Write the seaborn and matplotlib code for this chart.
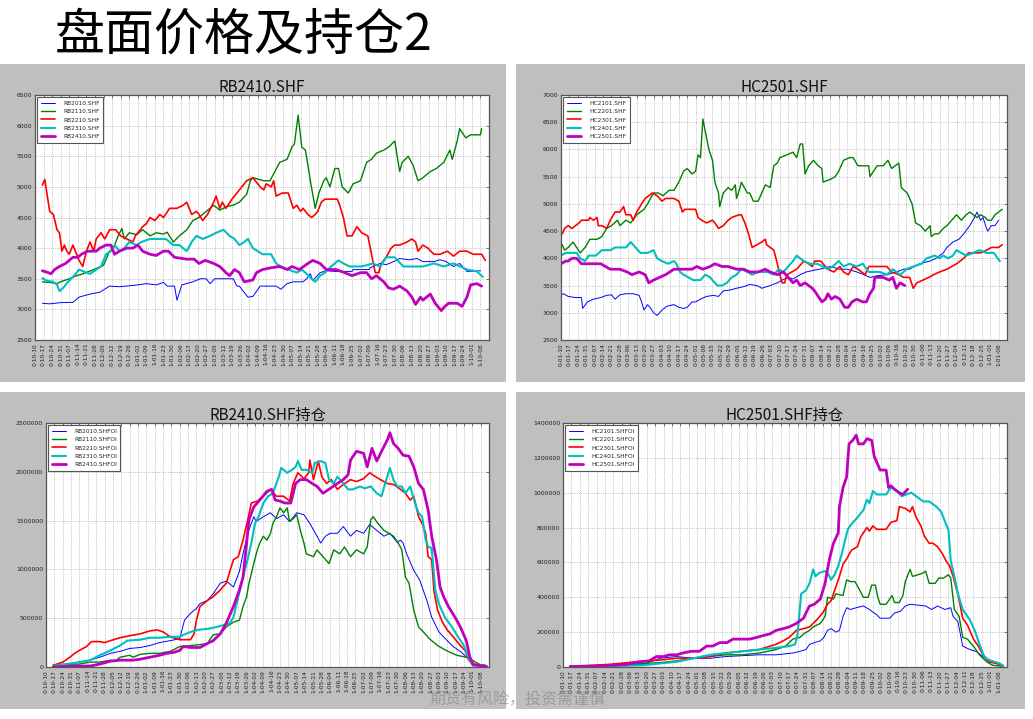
import matplotlib
matplotlib.use("Agg")
import matplotlib.pyplot as plt
from matplotlib.patches import Rectangle
import seaborn as sns
import pandas as pd

# ---------------- data ----------------
RB_TICK_LABELS = ["0-10-10", "0-10-17", "0-10-24", "0-10-31", "0-11-07", "0-11-14", "0-11-21", "0-11-28",
                  "0-12-05", "0-12-12", "0-12-19", "0-12-26", "1-01-02", "1-01-09", "1-01-16", "1-01-23",
                  "1-01-30", "1-02-06", "1-02-13", "1-02-20", "1-02-27", "1-03-05", "1-03-12", "1-03-19",
                  "1-03-26", "1-04-02", "1-04-09", "1-04-16", "1-04-23", "1-04-30", "1-05-07", "1-05-14",
                  "1-05-21", "1-05-28", "1-06-04", "1-06-11", "1-06-18", "1-06-25", "1-07-02", "1-07-09",
                  "1-07-16", "1-07-23", "1-07-30", "1-08-06", "1-08-13", "1-08-20", "1-08-27", "1-09-03",
                  "1-09-10", "1-09-17", "1-09-24", "1-10-01", "1-10-08"]
HC_TICK_LABELS = ["0-01-10", "0-01-17", "0-01-24", "0-01-31", "0-02-07", "0-02-14", "0-02-21", "0-02-28",
                  "0-03-06", "0-03-13", "0-03-20", "0-03-27", "0-04-03", "0-04-10", "0-04-17", "0-04-24",
                  "0-05-01", "0-05-08", "0-05-15", "0-05-22", "0-05-29", "0-06-05", "0-06-12", "0-06-19",
                  "0-06-26", "0-07-03", "0-07-10", "0-07-17", "0-07-24", "0-07-31", "0-08-07", "0-08-14",
                  "0-08-21", "0-08-28", "0-09-04", "0-09-11", "0-09-18", "0-09-25", "0-10-02", "0-10-09",
                  "0-10-16", "0-10-23", "0-10-30", "0-11-06", "0-11-13", "0-11-20", "0-11-27", "0-12-04",
                  "0-12-11", "0-12-18", "0-12-25", "1-01-01", "1-01-08"]

RB_PRICE_YTICKS = [2500, 3000, 3500, 4000, 4500, 5000, 5500, 6000, 6500]
HC_PRICE_YTICKS = [2500, 3000, 3500, 4000, 4500, 5000, 5500, 6000, 6500, 7000]
RB_OI_YTICKS = [0, 500000, 1000000, 1500000, 2000000, 2500000]
HC_OI_YTICKS = [0, 200000, 400000, 600000, 800000, 1000000, 1200000, 1400000]

TITLE = "盘面价格及持仓2"
WATERMARK = "期货有风险，投资需谨慎"
PANEL_TITLES = ["RB2410.SHF", "HC2501.SHF", "RB2410.SHF持仓", "HC2501.SHF持仓"]
RB_NAMES = ["RB2010.SHF", "RB2110.SHF", "RB2210.SHF", "RB2310.SHF", "RB2410.SHF"]
HC_NAMES = ["HC2101.SHF", "HC2201.SHF", "HC2301.SHF", "HC2401.SHF", "HC2501.SHF"]

# (day since first tick, price)
RB2010_PX = [(6,3100),(12,3090),(21,3110),(31,3115),(36,3200),(45,3250),(53,3280),(61,3380),(69,3370),(80,3390),
             (91,3420),(99,3400),(105,3440),(108,3380),(114,3380),(116,3150),(120,3400),(129,3450),(135,3500),
             (140,3500),(143,3420),(147,3500),(162,3500),(165,3380),(167,3380),(170,3300),(174,3200),(178,3210),
             (184,3380),(197,3380),(201,3330),(206,3420),(211,3450),(219,3450),(222,3500),(225,3580),(227,3470),
             (233,3600),(238,3630),(245,3620),(259,3620),(260,3650),(273,3650),(274,3680),(282,3750),(287,3730),
             (293,3780),(298,3830),(306,3810),(312,3830),(317,3780),(326,3780),(331,3810),(336,3780),(342,3700),
             (347,3750),(353,3620),(364,3630)]
RB2110_PX = [(6,3450),(12,3440),(18,3420),(21,3450),(28,3500),(34,3550),(39,3580),(48,3650),(56,3720),(61,3950),
             (64,4000),(68,4200),(71,4320),(73,4150),(77,4250),(83,4220),(88,4300),(94,4200),(99,4250),(105,4230),
             (108,4260),(113,4100),(118,4200),(124,4300),(129,4450),(134,4500),(140,4600),(146,4700),(151,4620),
             (157,4680),(162,4700),(167,4750),(173,4880),(176,5100),(178,5150),(187,5100),(192,5100),(196,5250),
             (200,5400),(206,5450),(210,5650),(212,5700),(215,6170),(218,5650),(221,5600),(225,5100),(229,4650),
             (232,4900),(236,5100),(238,5150),(241,5000),(245,5300),(248,5300),(251,5000),(256,4900),(260,5050),
             (266,5100),(271,5400),(275,5450),(279,5550),(285,5600),(289,5650),(294,5750),(298,5250),(300,5400),
             (305,5500),(309,5350),(313,5100),(317,5150),(323,5250),(328,5300),(334,5400),(339,5600),(341,5450),
             (345,5750),(347,5950),(352,5800),(356,5850),(364,5850),(365,5950)]
RB2210_PX = [(6,5030),(8,5120),(12,4600),(15,4550),(18,4300),(20,4250),(22,3950),(24,4050),(26,3950),(28,3900),
             (31,4050),(36,3800),(39,3700),(42,3950),(45,4100),(48,3950),(50,4150),(54,4250),(57,4150),(61,4300),
             (66,4300),(70,4200),(75,4150),(80,4100),(82,4200),(86,4300),(88,4350),(91,4400),(94,4500),(98,4450),
             (102,4550),(105,4500),(110,4650),(116,4650),(121,4700),(124,4750),(128,4550),(132,4600),(134,4550),
             (137,4450),(141,4550),(146,4750),(148,4850),(151,4650),(153,4750),(156,4650),(161,4800),(165,4900),
             (169,5000),(173,5100),(178,5150),(182,5050),(184,5000),(187,4950),(189,5050),(193,5000),(195,5100),
             (197,4850),(202,4900),(207,4900),(211,4650),(214,4700),(217,4600),(219,4650),(223,4550),(226,4500),
             (229,4550),(231,4600),(234,4750),(237,4800),(247,4800),(249,4700),(252,4500),(255,4200),(259,4200),
             (263,4350),(267,4250),(272,4200),(275,3900),(278,3600),(281,3600),(283,3750),(287,3850),(291,4000),
             (294,4050),(298,4050),(304,4100),(308,4150),(311,4100),(313,3950),(317,4050),(321,4000),(326,3900),
             (331,3900),(337,3950),(342,3870),(347,3950),(353,3950),(358,3900),(365,3900),(368,3800)]
RB2310_PX = [(6,3510),(9,3470),(15,3450),(18,3400),(20,3300),(23,3350),(27,3450),(32,3550),(36,3650),(42,3600),
             (45,3580),(50,3650),(54,3700),(58,3900),(62,3950),(65,4050),(69,3950),(73,4000),(77,4100),(83,4050),
             (87,4100),(94,4150),(107,4150),(113,4050),(118,4050),(124,3950),(128,4100),(132,4200),(137,4150),
             (143,4200),(148,4250),(154,4300),(159,4200),(163,4150),(167,4050),(171,4100),(174,4150),(178,4000),
             (182,3950),(186,3900),(193,3900),(197,3750),(201,3700),(207,3650),(214,3600),(218,3650),(222,3580),
             (226,3500),(229,3450),(233,3550),(237,3600),(242,3700),(248,3800),(252,3750),(257,3700),(266,3700),
             (271,3720),(276,3750),(282,3700),(287,3850),(294,3850),(301,3700),(309,3700),(317,3700),(326,3750),
             (334,3700),(342,3750),(353,3650),(361,3620),(366,3530)]
RB2410_PX = [(6,3630),(11,3600),(13,3580),(16,3650),(20,3700),(25,3750),(31,3850),(35,3850),(38,3900),(43,3950),
             (50,3950),(53,4000),(58,4050),(62,4050),(65,3900),(69,3950),(75,4000),(80,4000),(84,4050),(88,3950),
             (94,3900),(99,3880),(105,3950),(109,3950),(114,3850),(124,3820),(130,3820),(134,3750),(139,3800),
             (146,3750),(151,3700),(156,3600),(159,3550),(163,3650),(167,3600),(171,3450),(178,3480),(181,3600),
             (186,3650),(193,3680),(200,3700),(206,3650),(210,3700),(216,3650),(223,3750),(227,3800),(233,3750),
             (238,3650),(246,3650),(253,3600),(259,3550),(266,3600),(271,3600),(275,3500),(279,3550),(285,3450),
             (289,3350),(293,3330),(298,3380),(304,3300),(308,3200),(311,3080),(315,3200),(317,3150),(323,3250),
             (327,3100),(332,2980),(335,3050),(338,3100),(345,3100),(349,3050),(353,3200),(356,3400),(361,3420),
             (365,3380)]

HC2101_PX = [(0,3330),(2,3350),(6,3300),(12,3280),(17,3280),(18,3080),(22,3200),(27,3250),(33,3280),(38,3320),
             (42,3330),(45,3250),(49,3330),(54,3350),(60,3350),(65,3320),(67,3200),(69,3050),(72,3150),(74,3100),
             (77,3000),(80,2950),(84,3050),(88,3120),(94,3150),(98,3100),(102,3080),(105,3100),(109,3200),
             (112,3200),(116,3250),(121,3300),(127,3320),(131,3300),(135,3400),(141,3420),(146,3450),(152,3480),
             (157,3520),(163,3500),(167,3450),(174,3500),(180,3550),(184,3600),(189,3650),(193,3620),(199,3700),
             (204,3750),(210,3780),(215,3800),(224,3850),(232,3800),(238,3800),(246,3750),(252,3700),(257,3650),
             (263,3680),(271,3700),(279,3750),(285,3800),(290,3800),(298,3900),(307,3950),(312,4000),(318,4100),
             (321,4200),(326,4300),(331,4350),(335,4450),(340,4600),(344,4750),(346,4850),(349,4700),(351,4750),
             (354,4550),(355,4500),(358,4600),(361,4600),(364,4700)]
HC2201_PX = [(1,4250),(3,4150),(6,4200),(10,4300),(13,4200),(16,4100),(20,4200),(24,4350),(30,4350),(34,4400),
             (38,4550),(42,4600),(47,4700),(49,4600),(54,4700),(58,4650),(63,4800),(69,4900),(72,5000),(77,5200),
             (81,5200),(85,5150),(90,5250),(94,5250),(98,5400),(102,5600),(105,5650),(109,5550),(112,5600),
             (114,5900),(116,5850),(118,6560),(123,6000),(126,5800),(128,5400),(131,5200),(132,4950),(135,5200),
             (139,5300),(142,5250),(145,5350),(146,5100),(149,5300),(150,5400),(155,5200),(157,5200),(160,5050),
             (164,5050),(167,5200),(170,5350),(174,5300),(177,5700),(180,5750),(182,5850),(188,5900),(193,5950),
             (196,5850),(199,6100),(201,6100),(203,5550),(206,5700),(210,5800),(214,5700),(217,5650),(218,5400),
             (224,5450),(228,5500),(231,5600),(235,5800),(240,5850),(243,5850),(247,5700),(256,5700),(257,5500),
             (260,5600),(263,5700),(268,5700),(272,5800),(275,5650),(278,5700),(281,5750),(282,5550),(283,5300),
             (288,5200),(292,5000),(295,4650),(299,4600),(303,4500),(307,4600),(308,4400),(311,4450),(314,4450),
             (318,4550),(321,4600),(325,4700),(329,4800),(333,4700),(337,4800),(340,4850),(346,4750),(349,4800),
             (353,4750),(355,4700),(358,4700),(361,4800),(364,4850),(367,4900)]
HC2301_PX = [(1,4450),(3,4550),(6,4600),(9,4550),(12,4600),(15,4650),(17,4700),(23,4700),(24,4750),(27,4700),
             (30,4750),(31,4600),(34,4600),(38,4550),(41,4700),(45,4850),(49,4850),(52,4950),(54,4800),(58,4800),
             (60,4700),(63,4850),(67,5000),(70,5100),(76,5200),(80,5150),(84,5050),(87,5100),(94,5100),(98,5050),
             (101,4850),(103,4900),(112,4900),(114,4750),(117,4700),(121,4650),(126,4700),(128,4650),(131,4550),
             (135,4600),(139,4700),(142,4750),(148,4800),(150,4800),(153,4650),(156,4450),(159,4200),(163,4250),
             (167,4300),(170,4350),(171,4250),(174,4200),(177,4150),(180,3900),(182,3700),(184,3550),(186,3550),
             (188,3700),(192,3750),(196,3800),(200,3900),(202,3950),(206,3900),(209,3850),(211,3950),(216,3950),
             (220,3850),(222,3800),(227,3750),(232,3850),(235,3750),(239,3700),(243,3850),(247,3800),(250,3750),
             (253,3700),(256,3850),(263,3850),(271,3850),(275,3750),(281,3700),(285,3650),(290,3650),(293,3450),
             (296,3550),(301,3600),(306,3650),(310,3700),(315,3750),(321,3800),(325,3850),(329,3900),(332,3950),
             (335,4000),(339,4100),(343,4100),(349,4100),(354,4150),(358,4200),(364,4200),(367,4250)]
HC2401_PX = [(0,4050),(4,4100),(13,4100),(16,4000),(20,3950),(23,4050),(29,4050),(34,4150),(41,4150),(45,4200),
             (54,4200),(58,4300),(62,4200),(66,4100),(72,4100),(77,4150),(80,4000),(84,3950),(89,3900),(94,3950),
             (96,3900),(99,3750),(102,3700),(106,3650),(110,3600),(116,3600),(120,3700),(124,3650),(130,3500),
             (134,3500),(138,3550),(142,3650),(146,3700),(150,3800),(155,3750),(159,3700),(164,3750),(172,3750),
             (177,3700),(181,3800),(185,3750),(189,3850),(193,3950),(196,4050),(202,3950),(207,3900),(213,3900),
             (218,3850),(222,3800),(226,3850),(231,3950),(235,3850),(240,3900),(246,3850),(251,3900),(256,3750),
             (265,3750),(271,3700),(276,3800),(282,3700),(285,3750),(287,3800),(293,3850),(300,3900),(304,4000),
             (311,4050),(315,4000),(318,4050),(322,4000),(326,4050),(329,4150),(333,4100),(337,4050),(343,4100),
             (348,4150),(354,4100),(360,4100),(365,3950)]
HC2501_PX = [(0,3900),(4,3950),(6,3950),(9,4000),(13,4000),(17,3900),(33,3900),(37,3850),(41,3800),(49,3800),
             (55,3750),(59,3700),(65,3750),(70,3700),(73,3550),(77,3600),(82,3650),(87,3700),(94,3800),(102,3800),
             (109,3800),(113,3850),(118,3800),(124,3850),(128,3900),(134,3850),(139,3850),(146,3800),(152,3800),
             (157,3750),(164,3750),(170,3800),(174,3750),(180,3700),(185,3750),(189,3650),(193,3550),(196,3600),
             (199,3500),(203,3550),(209,3450),(211,3400),(214,3300),(217,3200),(220,3250),(222,3350),(225,3250),
             (228,3300),(232,3250),(236,3100),(239,3100),(242,3200),(246,3250),(251,3200),(254,3200),(257,3350),
             (260,3450),(261,3650),(268,3650),(273,3600),(276,3650),(279,3450),(282,3550),(286,3500)]

# open interest, in millions of lots: (day, OI)
RB2010_OI = [(6,0.017),(17,0.025),(28,0.05),(37,0.07),(45,0.10),(54,0.14),(62,0.16),(70,0.19),(79,0.20),(87,0.22),
             (95,0.25),(104,0.27),(112,0.29),(116,0.48),(121,0.55),(126,0.60),(129,0.65),(135,0.68),(140,0.75),
             (146,0.86),(151,0.88),(157,0.82),(162,0.98),(165,1.16),(169,1.37),(174,1.54),(176,1.49),(182,1.54),
             (188,1.58),(193,1.52),(199,1.56),(204,1.49),(210,1.58),(216,1.56),(221,1.47),(227,1.34),(230,1.27),
             (234,1.34),(238,1.37),(244,1.37),(249,1.44),(255,1.34),(260,1.40),(266,1.37),(271,1.46),(277,1.40),
             (283,1.34),(288,1.37),(294,1.28),(297,1.30),(299,1.27),(302,1.16),(308,0.99),(313,0.89),(319,0.68),
             (323,0.51),(329,0.36),(336,0.27),(341,0.21),(348,0.15),(353,0.09),(358,0.03),(364,0.02),(368,0.01)]
RB2110_OI = [(6,0.017),(17,0.03),(28,0.03),(37,0.05),(45,0.05),(54,0.07),(58,0.06),(62,0.10),(70,0.12),(73,0.10),
             (79,0.13),(87,0.14),(95,0.14),(104,0.16),(112,0.21),(121,0.22),(129,0.23),(135,0.24),(140,0.33),
             (146,0.34),(151,0.41),(157,0.46),(162,0.48),(165,0.62),(168,0.72),(170,0.86),(174,1.06),(177,1.20),
             (179,1.27),(182,1.34),(185,1.30),(188,1.37),(190,1.47),(193,1.54),(196,1.63),(199,1.58),(202,1.63),
             (204,1.49),(207,1.52),(210,1.56),(213,1.40),(216,1.27),(218,1.16),(224,1.13),(227,1.20),(232,1.13),
             (237,1.06),(241,1.20),(246,1.16),(250,1.23),(255,1.13),(260,1.20),(266,1.16),(269,1.23),(272,1.51),
             (274,1.54),(278,1.47),(283,1.40),(287,1.37),(291,1.34),(295,1.27),(298,1.20),(301,0.92),(304,0.86),
             (308,0.58),(312,0.41),(316,0.36),(321,0.29),(328,0.22),(335,0.17),(344,0.12),(352,0.10),(357,0.07),
             (364,0.02),(368,0.01)]
RB2210_OI = [(6,0.017),(14,0.05),(20,0.10),(24,0.14),(28,0.17),(34,0.21),(38,0.26),(45,0.26),(49,0.25),(54,0.27),
             (62,0.30),(70,0.32),(79,0.34),(87,0.37),(93,0.38),(98,0.36),(104,0.31),(112,0.28),(121,0.28),
             (124,0.34),(126,0.48),(129,0.62),(135,0.68),(140,0.72),(146,0.79),(151,0.86),(157,1.10),(161,1.13),
             (165,1.30),(169,1.51),(172,1.68),(177,1.70),(182,1.75),(188,1.82),(193,1.75),(199,1.75),(204,1.70),
             (207,1.88),(211,1.99),(216,1.93),(220,1.99),(221,2.12),(224,1.92),(228,2.11),(231,1.95),(235,1.88),
             (239,1.92),(244,1.82),(249,1.87),(255,1.92),(260,1.90),(266,1.93),(271,1.99),(276,1.95),(280,1.92),
             (286,1.88),(291,1.87),(297,1.82),(301,1.78),(305,1.71),(308,1.75),(312,1.54),(315,1.47),(318,1.37),
             (320,1.13),(323,1.10),(325,0.77),(328,0.58),(332,0.46),(336,0.38),(341,0.31),(347,0.22),(351,0.17),
             (354,0.07),(358,0.03),(366,0.02),(369,0.01)]
RB2310_OI = [(6,0.01),(17,0.03),(28,0.05),(37,0.07),(45,0.12),(54,0.17),(62,0.22),(68,0.27),(79,0.28),(87,0.30),
             (95,0.30),(104,0.31),(112,0.31),(117,0.34),(126,0.38),(135,0.39),(143,0.41),(149,0.43),(154,0.45),
             (157,0.51),(161,0.72),(165,0.92),(168,1.06),(172,1.27),(175,1.47),(178,1.54),(182,1.68),(186,1.75),
             (190,1.78),(195,1.95),(197,2.04),(202,1.99),(206,2.02),(209,2.05),(211,2.11),(214,2.02),(218,2.02),
             (223,1.99),(225,2.09),(230,2.11),(234,2.09),(237,1.92),(241,1.88),(244,1.95),(249,1.88),(253,1.82),
             (257,1.82),(263,1.85),(267,1.83),(272,1.85),(277,1.78),(281,1.75),(284,1.88),(288,2.04),(291,1.92),
             (294,1.85),(298,1.85),(301,1.78),(305,1.85),(309,1.68),(312,1.58),(315,1.54),(318,1.30),(320,1.23),
             (323,1.22),(326,0.79),(329,0.65),(334,0.51),(340,0.41),(345,0.31),(350,0.22),(354,0.09),(357,0.02),
             (364,0.02),(369,0.01)]
RB2410_OI = [(6,0.0),(23,0.01),(37,0.01),(45,0.03),(54,0.06),(62,0.07),(73,0.07),(79,0.08),(87,0.10),(95,0.12),
             (101,0.14),(107,0.15),(112,0.17),(115,0.21),(121,0.20),(129,0.20),(135,0.24),(140,0.27),(146,0.34),
             (151,0.45),(157,0.62),(162,0.79),(165,0.92),(168,1.27),(170,1.51),(174,1.64),(179,1.71),(185,1.80),
             (189,1.82),(192,1.71),(196,1.70),(200,1.68),(205,1.68),(209,1.88),(213,1.92),(218,1.92),(223,1.88),
             (227,1.85),(232,1.78),(238,1.83),(244,1.88),(249,1.92),(253,1.97),(255,2.12),(260,2.21),(266,2.19),
             (269,2.05),(273,2.24),(277,2.11),(281,2.21),(286,2.33),(288,2.40),(291,2.29),(295,2.24),(299,2.17),
             (304,2.16),(308,2.05),(312,1.88),(316,1.82),(320,1.61),(323,1.34),(327,1.10),(330,0.82),(333,0.72),
             (337,0.62),(343,0.50),(347,0.41),(352,0.27),(355,0.10),(358,0.02),(368,0.01),(369,0.0)]

HC2101_OI = [(6,0.005),(39,0.01),(67,0.015),(81,0.05),(95,0.06),(109,0.05),(123,0.05),(136,0.06),(150,0.065),
             (164,0.07),(178,0.07),(192,0.08),(198,0.09),(203,0.10),(206,0.13),(210,0.14),(215,0.15),(218,0.17),
             (221,0.21),(224,0.22),(228,0.20),(231,0.21),(234,0.29),(237,0.34),(240,0.33),(245,0.34),(251,0.35),
             (256,0.33),(262,0.30),(265,0.28),(273,0.28),(277,0.31),(282,0.32),(286,0.35),(290,0.36),(303,0.35),
             (308,0.33),(313,0.35),(319,0.33),(324,0.34),(326,0.29),(330,0.26),(334,0.12),(340,0.10),(345,0.09),
             (351,0.06),(356,0.03),(365,0.015),(368,0.01)]
HC2201_OI = [(6,0.003),(39,0.01),(67,0.02),(81,0.025),(95,0.035),(109,0.05),(123,0.06),(136,0.07),(150,0.07),
             (164,0.08),(178,0.10),(186,0.12),(192,0.16),(198,0.17),(201,0.19),(206,0.21),(209,0.23),(215,0.25),
             (219,0.29),(221,0.40),(226,0.39),(228,0.42),(234,0.41),(237,0.50),(240,0.49),(244,0.49),(248,0.44),
             (251,0.40),(255,0.40),(258,0.47),(261,0.47),(263,0.40),(265,0.36),(270,0.36),(273,0.39),(275,0.41),
             (277,0.37),(281,0.37),(284,0.41),(286,0.49),(290,0.56),(292,0.52),(297,0.53),(301,0.54),(303,0.55),
             (306,0.48),(311,0.48),(314,0.51),(318,0.51),(322,0.53),(324,0.51),(327,0.33),(331,0.29),(334,0.17),
             (338,0.16),(344,0.11),(348,0.07),(354,0.03),(359,0.01),(367,0.005)]
HC2301_OI = [(6,0.003),(39,0.015),(61,0.03),(72,0.035),(81,0.04),(95,0.05),(109,0.05),(123,0.06),(136,0.08),
             (150,0.09),(164,0.10),(173,0.12),(178,0.13),(184,0.15),(189,0.17),(195,0.21),(201,0.22),(206,0.23),
             (212,0.27),(217,0.31),(221,0.36),(224,0.38),(227,0.44),(231,0.52),(234,0.59),(237,0.62),(241,0.67),
             (246,0.69),(249,0.75),(254,0.80),(256,0.78),(259,0.81),(262,0.79),(270,0.79),(274,0.83),(279,0.84),
             (281,0.92),(286,0.91),(290,0.89),(292,0.92),(295,0.86),(299,0.81),(302,0.75),(306,0.71),(309,0.71),
             (313,0.69),(317,0.65),(320,0.61),(323,0.58),(326,0.52),(329,0.44),(330,0.42),(334,0.28),(338,0.24),
             (343,0.16),(347,0.12),(351,0.07),(356,0.03),(363,0.02),(367,0.005)]
HC2401_OI = [(6,0.003),(39,0.005),(67,0.01),(81,0.02),(95,0.03),(109,0.05),(123,0.07),(136,0.08),(150,0.09),
             (164,0.10),(178,0.11),(189,0.12),(194,0.13),(196,0.19),(199,0.42),(203,0.44),(206,0.48),(209,0.56),
             (211,0.52),(214,0.54),(219,0.55),(221,0.54),(224,0.50),(227,0.53),(230,0.58),(233,0.65),(235,0.71),
             (238,0.79),(241,0.82),(245,0.85),(251,0.90),(254,0.96),(256,0.94),(259,1.01),(262,0.99),(270,0.99),
             (274,1.03),(279,1.01),(283,0.98),(287,0.99),(291,1.00),(295,0.98),(301,0.95),(306,0.95),(312,0.92),
             (316,0.89),(320,0.82),(322,0.79),(324,0.61),(327,0.52),(330,0.42),(334,0.33),(340,0.27),(344,0.21),
             (348,0.13),(352,0.06),(356,0.04),(365,0.02),(368,0.005)]
HC2501_OI = [(6,0.003),(25,0.005),(39,0.01),(53,0.015),(64,0.03),(72,0.035),(78,0.06),(84,0.06),(89,0.07),
             (95,0.07),(100,0.08),(107,0.09),(114,0.09),(120,0.12),(125,0.12),(131,0.14),(137,0.14),(142,0.16),
             (148,0.16),(156,0.16),(162,0.17),(167,0.18),(173,0.19),(178,0.21),(184,0.22),(189,0.23),(195,0.25),
             (201,0.28),(203,0.31),(206,0.35),(210,0.36),(215,0.39),(219,0.48),(221,0.56),(223,0.63),(226,0.71),
             (230,0.77),(231,0.92),(234,1.03),(237,1.09),(239,1.28),(242,1.30),(245,1.33),(247,1.28),(251,1.28),
             (254,1.31),(258,1.30),(260,1.21),(265,1.13),(270,1.13),(272,1.03),(274,1.04),(277,1.02),(281,1.00),
             (284,0.99),(288,1.02)]

OI_UNIT = 1_000_000

# ---------------- style ----------------
sns.set_style("whitegrid")
plt.rcParams["font.family"] = ["DejaVu Sans", "Noto Sans CJK SC"]
CJK = ["Noto Sans CJK SC", "DejaVu Sans"]

SERIES_COLORS = ["#0000ff", "#008000", "#ff0000", "#00bfbf", "#bf00bf"]
SERIES_WIDTHS = [0.7, 1.0, 1.2, 1.5, 2.0]

W, H = 1033, 719
fig = plt.figure(figsize=(W / 100, H / 100), dpi=100)
fig.patch.set_facecolor("white")


def px_rect(x0, y0, x1, y1):
    return Rectangle((x0 / W, 1 - y1 / H), (x1 - x0) / W, (y1 - y0) / H,
                     transform=fig.transFigure, facecolor="#bfbfbf", edgecolor="none", zorder=0)


for r in [(0, 64, 506, 382), (516, 64, 1025, 382), (0, 392, 506, 709), (516, 392, 1025, 709)]:
    fig.add_artist(px_rect(*r))


def px_axes(x0, y0, x1, y1):
    return fig.add_axes([x0 / W, 1 - y1 / H, (x1 - x0) / W, (y1 - y0) / H])


ax_tl = px_axes(35, 95, 489, 340)
ax_tr = px_axes(561, 95, 1007, 340)
ax_bl = px_axes(46, 423, 489, 667)
ax_br = px_axes(563, 423, 1007, 667)

panels = [
    (ax_tl, PANEL_TITLES[0], RB_NAMES, [RB2010_PX, RB2110_PX, RB2210_PX, RB2310_PX, RB2410_PX], "", 1,
     RB_TICK_LABELS, RB_PRICE_YTICKS),
    (ax_tr, PANEL_TITLES[1], HC_NAMES, [HC2101_PX, HC2201_PX, HC2301_PX, HC2401_PX, HC2501_PX], "", 1,
     HC_TICK_LABELS, HC_PRICE_YTICKS),
    (ax_bl, PANEL_TITLES[2], RB_NAMES, [RB2010_OI, RB2110_OI, RB2210_OI, RB2310_OI, RB2410_OI], "OI", OI_UNIT,
     RB_TICK_LABELS, RB_OI_YTICKS),
    (ax_br, PANEL_TITLES[3], HC_NAMES, [HC2101_OI, HC2201_OI, HC2301_OI, HC2401_OI, HC2501_OI], "OI", OI_UNIT,
     HC_TICK_LABELS, HC_OI_YTICKS),
]

for ax, title, names, series, suffix, unit, xlabels, yticks in panels:
    ax.set_facecolor("white")
    for name, pts, color, lw in zip(names, series, SERIES_COLORS, SERIES_WIDTHS):
        df = pd.DataFrame(pts, columns=["day", "value"])
        df["value"] = df["value"] * unit
        sns.lineplot(data=df, x="day", y="value", ax=ax, color=color, linewidth=lw,
                     label=name + suffix, estimator=None, sort=False)
    ax.set_xlim(0, 371)
    ax.set_ylim(yticks[0], yticks[-1])
    ax.set_xticks([7 * i for i in range(len(xlabels))])
    ax.set_xticklabels(xlabels, rotation=90, fontsize=4.2, color="#222222")
    ax.set_yticks(yticks)
    ax.set_yticklabels([str(t) for t in yticks], fontsize=4.5, color="#222222")
    ax.set_xlabel("")
    ax.set_ylabel("")
    ax.grid(True, color="#a8a8a8", linestyle=":", linewidth=0.6)
    ax.tick_params(axis="both", which="both", direction="in", length=2, width=0.5,
                   pad=2, top=True, right=True, colors="#444444", labelcolor="#222222")
    for sp in ax.spines.values():
        sp.set_color("#555555")
        sp.set_linewidth(0.9)
    ax.set_title(title, fontsize=11, family=CJK, pad=2, color="#111111")
    leg = ax.legend(loc="upper left", fontsize=4.2, frameon=True, fancybox=False, edgecolor="#555555",
                    framealpha=1, handlelength=2.4, labelspacing=0.55, borderpad=0.6, handletextpad=1.4,
                    borderaxespad=0.4)
    leg.get_frame().set_linewidth(0.8)

fig.text(55 / W, 1 - 36 / H, TITLE, fontsize=36, family=CJK, va="center", ha="left", color="black")
fig.text(517 / W, 1 - 700 / H, WATERMARK, fontsize=11.5, family=CJK, va="center", ha="center",
         color="#8c8c8c", alpha=0.7)

fig.savefig("out.png", dpi=100)
